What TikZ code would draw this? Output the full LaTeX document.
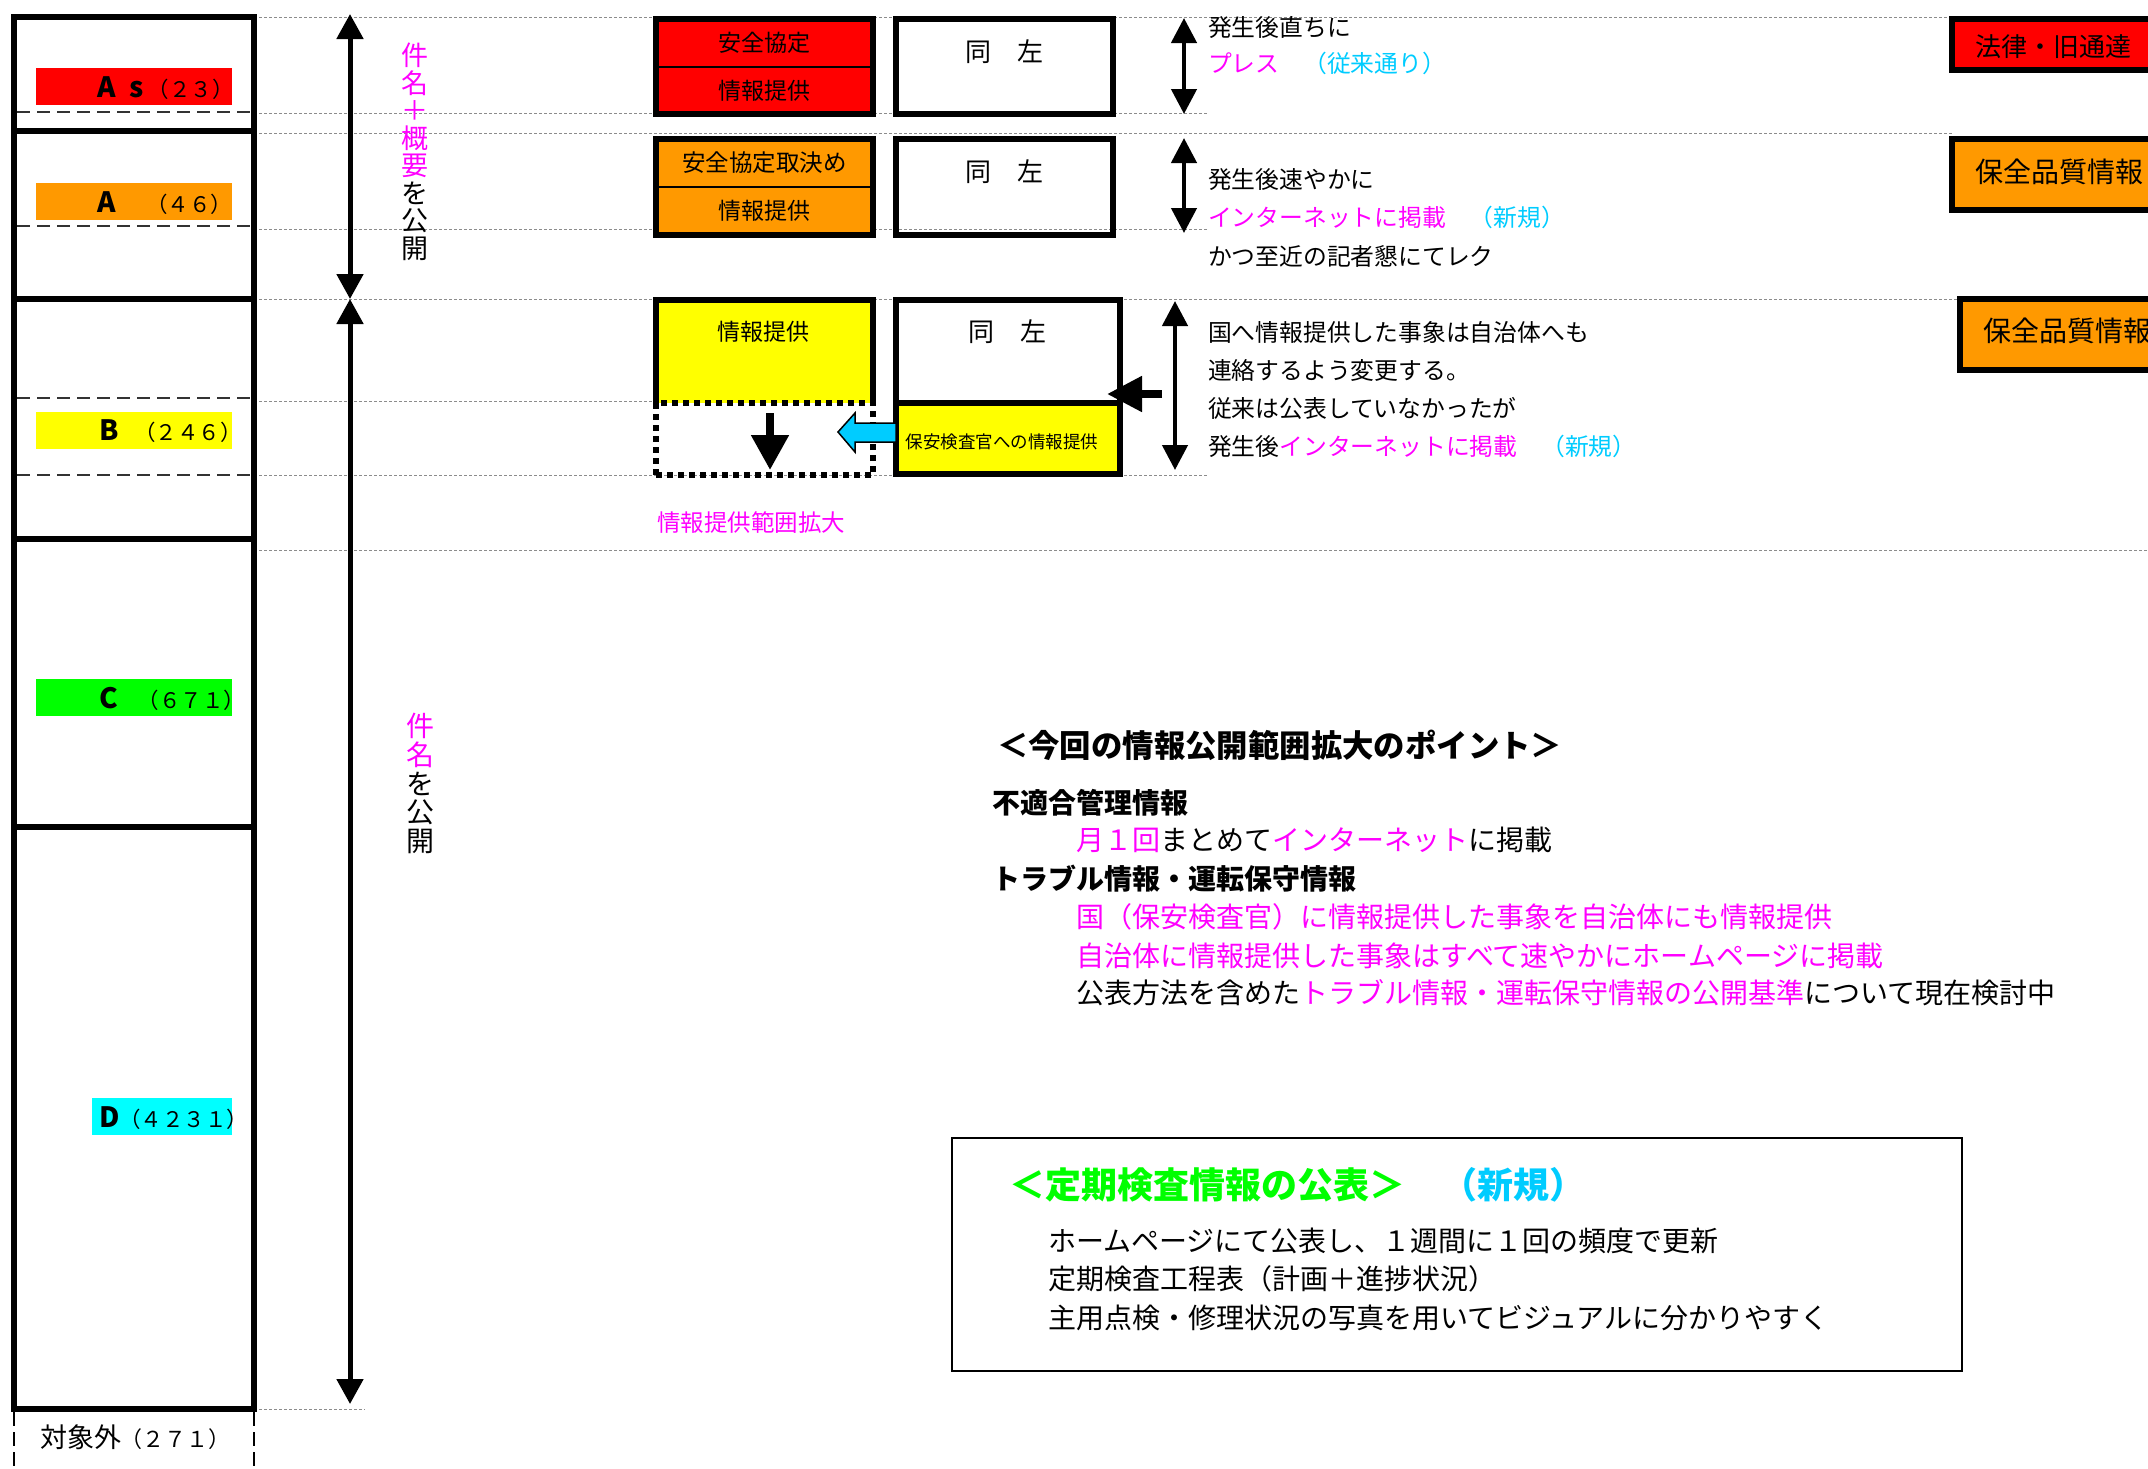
\documentclass[tikz,border=0pt]{standalone}
\usepackage{fontspec}
\setmainfont{Noto Sans CJK JP}
\usetikzlibrary{arrows.meta}
\definecolor{jred}{HTML}{FF0000}
\definecolor{jorange}{HTML}{FF9900}
\definecolor{jyellow}{HTML}{FFFF00}
\definecolor{jgreen}{HTML}{00FF00}
\definecolor{jcyan}{HTML}{00FFFF}
\definecolor{jsky}{HTML}{00CCFF}
\definecolor{jmag}{HTML}{FF00FF}
\definecolor{jgray}{HTML}{8C8C8C}
\newcommand{\fsz}[1]{\fontsize{#1}{#1}\selectfont}
\begin{document}
\begin{tikzpicture}[x=1pt,y=-1pt,
  every node/.style={inner sep=0pt,outer sep=0pt},
  guide/.style={jgray,line width=1pt,dash pattern=on 3pt off 2pt},
  coldash/.style={black!80,line width=2.5pt,dash pattern=on 13pt off 7pt},
  band/.style={draw,line width=5.5pt,minimum width=240pt},
  bar/.style={minimum height=37pt},
  lbl/.style={anchor=base west},
  fat/.style={draw,line width=6pt},
  dbl/.style={line width=5pt,{Triangle[width=26pt,length=25pt]}-{Triangle[width=26pt,length=25pt]}},
  dbr/.style={line width=4.5pt,{Triangle[width=25pt,length=25pt]}-{Triangle[width=25pt,length=25pt]}},
  tx/.style={anchor=west,font=\fsz{23.8}},
  body/.style={anchor=west,font=\fsz{28}},
  bodyb/.style={anchor=west,font=\bfseries\fsz{28}},
  ctr/.style={font=\fsz{23}},
  same/.style={font=\fsz{26}},
  rbox/.style={fat,minimum width=260pt,minimum height=51pt},
]
\useasboundingbox (0,0) rectangle (2148,1468);
\clip (0,0) rectangle (2148,1468);
\fill[white] (0,0) rectangle (2148,1468);

% guide lines
\draw[guide] (254,17) -- (2148,17);
\draw[guide] (254,113) -- (1208,113);
\draw[guide] (254,133) -- (1952,133);
\draw[guide] (254,229) -- (1208,229);
\draw[guide] (254,299) -- (1960,299);
\draw[guide] (254,401) -- (653,401);
\draw[guide] (254,475) -- (1208,475);
\draw[guide] (254,550) -- (2148,550);
\draw[guide] (254,1409) -- (365,1409);

% column bands
\node[band,minimum height=114pt] (bAs) at (134,74) {};
\node[band,minimum height=168pt] (bA) at (134,215) {};
\node[band,minimum height=240pt] (bB) at (134,419) {};
\node[band,minimum height=288pt] (bC) at (134,683) {};
\node[band,minimum height=582pt] (bD) at (134,1118) {};

\node[bar,fill=jred,minimum width=196pt] (barAs) at (134,86.5) {};
\node[bar,fill=jorange,minimum width=196pt] (barA) at (134,201.5) {};
\node[bar,fill=jyellow,minimum width=196pt] (barB) at (134,430.5) {};
\node[bar,fill=jgreen,minimum width=196pt] (barC) at (134,697.5) {};
\node[bar,fill=jcyan,minimum width=140pt] (barD) at (162,1116.5) {};

\draw[coldash] (17,112) -- (251,112);
\draw[coldash] (17,226) -- (251,226);
\draw[coldash] (17,398) -- (251,398);
\draw[coldash] (17,475) -- (251,475);

\node[lbl] (lAs) at (97,97) {{\bfseries\fsz{28}A\hspace{14pt}s}\hspace{4pt}{\fsz{21.5}（２３）}};
\node[lbl] (lA) at (97,212) {{\bfseries\fsz{28}A}\hspace{31pt}{\fsz{21.5}（４６）}};
\node[lbl] (lB) at (99,440) {{\bfseries\fsz{28}B}\hspace{16pt}{\fsz{21.5}（２４６）}};
\node[lbl] (lC) at (99,708) {{\bfseries\fsz{28}C}\hspace{20pt}{\fsz{21.5}（６７１）}};
\node[lbl] (lD) at (99,1127) {{\bfseries\fsz{28}D}{\fsz{21.5}（４２３１）}};

\draw[line width=2.5pt,dash pattern=on 14pt off 6pt] (14,1412) -- (14,1468);
\draw[line width=2.5pt,dash pattern=on 14pt off 6pt] (254,1412) -- (254,1468);
\node[lbl] (lOut) at (40,1447) {{\fsz{27}対象外}{\fsz{22}（２７１）}};

% column arrows
\coordinate (ca1) at (350,14);
\coordinate (ca2) at (350,299);
\coordinate (ca3) at (350,1404);
\draw[dbl] (ca1) -- (ca2);
\draw[dbl] (ca2) -- (ca3);

\node[align=center,text=jmag,font=\fontsize{27}{27.5}\selectfont] (v1) at (415,152)
  {件\\名\\＋\\概\\要\\\textcolor{black}{を}\\\textcolor{black}{公}\\\textcolor{black}{開}};
\node[align=center,text=jmag,font=\fontsize{28}{28.7}\selectfont] (v2) at (420,783.5)
  {件\\名\\\textcolor{black}{を}\\\textcolor{black}{公}\\\textcolor{black}{開}};

% As row boxes
\node[fill=jred,minimum width=217pt,minimum height=48pt,font=\fsz{23}] (as1) at (764.5,43) {安全協定};
\node[fill=jred,minimum width=217pt,minimum height=47pt,font=\fsz{23}] (as2) at (764.5,90.5) {情報提供};
\draw[line width=2pt] (as1.south west) -- (as1.south east);
\draw[line width=6pt] (as1.north west) rectangle (as2.south east);
\node[fat,minimum width=217pt,minimum height=95pt] (dz1) at (1004.5,66.5) {};
\node[same] (dz1t) at (1004.5,52) {同　左};

% A row boxes
\node[fill=jorange,minimum width=217pt,minimum height=48pt,font=\fsz{23.5}] (an1) at (764.5,163) {安全協定取決め};
\node[fill=jorange,minimum width=217pt,minimum height=48pt,font=\fsz{23}] (an2) at (764.5,211) {情報提供};
\draw[line width=2pt] (an1.south west) -- (an1.south east);
\draw[line width=6pt] (an1.north west) rectangle (an2.south east);
\node[fat,minimum width=217pt,minimum height=96pt] (dz2) at (1004.5,187) {};
\node[same] (dz2t) at (1004.5,172) {同　左};

% B row boxes
\node[fill=jyellow,minimum width=217pt,minimum height=103pt] (yb) at (764.5,351.5) {};
\draw[line width=6pt] (yb.south west) -- (yb.north west) -- (yb.north east) -- (yb.south east);
\node[ctr] (ybt) at (763,332) {情報提供};
\node[draw,line width=6pt,dash pattern=on 6pt off 5pt,minimum width=217pt,minimum height=72pt] (exp) at (764.5,439) {};
\coordinate (dn1) at (770,413);
\coordinate (dn2) at (770,470);
\draw[line width=8pt,-{Triangle[width=36pt,length=35pt]}] (dn1) -- (dn2);
\node[anchor=west,text=jmag,font=\fsz{23.5}] (kakudai) at (657,523) {情報提供範囲拡大};

\node[fat,minimum width=224pt,minimum height=103pt] (dz3) at (1008,351.5) {};
\node[same] (dz3t) at (1007.5,332) {同　左};
\node[fat,fill=jyellow,minimum width=224pt,minimum height=71pt] (hoan) at (1008,438.5) {};
\node[font=\fsz{17.5}] (hoant) at (1002,442) {保安検査官への情報提供};

\draw[fill=jsky,line width=1.5pt,line join=miter]
  (838,432) -- (855,413) -- (855,423) -- (hoan.west |- 0,423) -- (hoan.west |- 0,442) -- (855,442) -- (855,452) -- cycle;

\coordinate (bk1) at (1162,394);
\coordinate (bk2) at (1107,394);
\draw[line width=8pt,-{Triangle[width=34pt,length=35pt]}] (bk1) -- (bk2);

% right double arrows
\coordinate (a1t) at (1184,18);
\coordinate (a1b) at (1184,114);
\coordinate (a2t) at (1184,138);
\coordinate (a2b) at (1184,233);
\coordinate (a3t) at (1175,301);
\coordinate (a3b) at (1175,470);
\draw[dbr] (a1t) -- (a1b);
\draw[dbr] (a2t) -- (a2b);
\draw[dbr] (a3t) -- (a3b);

% right texts
\node[tx] (r1) at (1208,27) {発生後直ちに};
\node[tx] (r2) at (1208,63) {\textcolor{jmag}{プレス}　\textcolor{jsky}{（従来通り）}};
\node[tx] (r3) at (1208,180) {発生後速やかに};
\node[tx] (r4) at (1208,217) {\textcolor{jmag}{インターネットに掲載}　\textcolor{jsky}{（新規）}};
\node[tx] (r5) at (1208,256) {かつ至近の記者懇にてレク};
\node[tx] (r6) at (1208,332) {国へ情報提供した事象は自治体へも};
\node[tx] (r7) at (1208,370) {連絡するよう変更する。};
\node[tx] (r8) at (1208,408) {従来は公表していなかったが};
\node[tx] (r9) at (1208,446) {発生後\textcolor{jmag}{インターネットに掲載}　\textcolor{jsky}{（新規）}};

% far right boxes (cut by the edge)
\node[rbox,fill=jred,minimum height=51pt] (law) at (2082,44.5) {};
\node[anchor=west,font=\fsz{26}] (lawt) at (1975,47) {法律・旧通達};
\node[rbox,fill=jorange,minimum height=71pt] (hq1) at (2082,174.5) {};
\node[anchor=west,font=\fsz{28}] (hq1t) at (1975,172) {保全品質情報};
\node[rbox,fill=jorange,minimum height=71pt] (hq2) at (2090,334.5) {};
\node[anchor=west,font=\fsz{28}] (hq2t) at (1983,331) {保全品質情報};

% points text
\node[anchor=west,font=\bfseries\fsz{31.4}] (pt) at (997,745) {＜今回の情報公開範囲拡大のポイント＞};
\node[bodyb] (h1) at (992,803) {不適合管理情報};
\node[body] (l1) at (1076,840) {\textcolor{jmag}{月１回}まとめて\textcolor{jmag}{インターネット}に掲載};
\node[bodyb] (h2) at (992,879) {トラブル情報・運転保守情報};
\node[body,text=jmag] (l2) at (1076,917) {国（保安検査官）に情報提供した事象を自治体にも情報提供};
\node[body,text=jmag] (l3) at (1076,956) {自治体に情報提供した事象はすべて速やかにホームページに掲載};
\node[body] (l4) at (1076,993) {公表方法を含めた\textcolor{jmag}{トラブル情報・運転保守情報の公開基準}について現在検討中};

% periodic inspection box
\node[draw,line width=2pt,minimum width=1010pt,minimum height=233pt] (pub) at (1457,1254.5) {};
\node[anchor=west,font=\bfseries\fsz{36}] (pubt) at (1009,1185) {\textcolor{jgreen}{＜定期検査情報の公表＞}　\textcolor{jsky}{（新規）}};
\node[body] (p1) at (1048,1241) {ホームページにて公表し、１週間に１回の頻度で更新};
\node[body] (p2) at (1048,1279) {定期検査工程表（計画＋進捗状況）};
\node[body] (p3) at (1048,1318) {主用点検・修理状況の写真を用いてビジュアルに分かりやすく};
\end{tikzpicture}
\end{document}
